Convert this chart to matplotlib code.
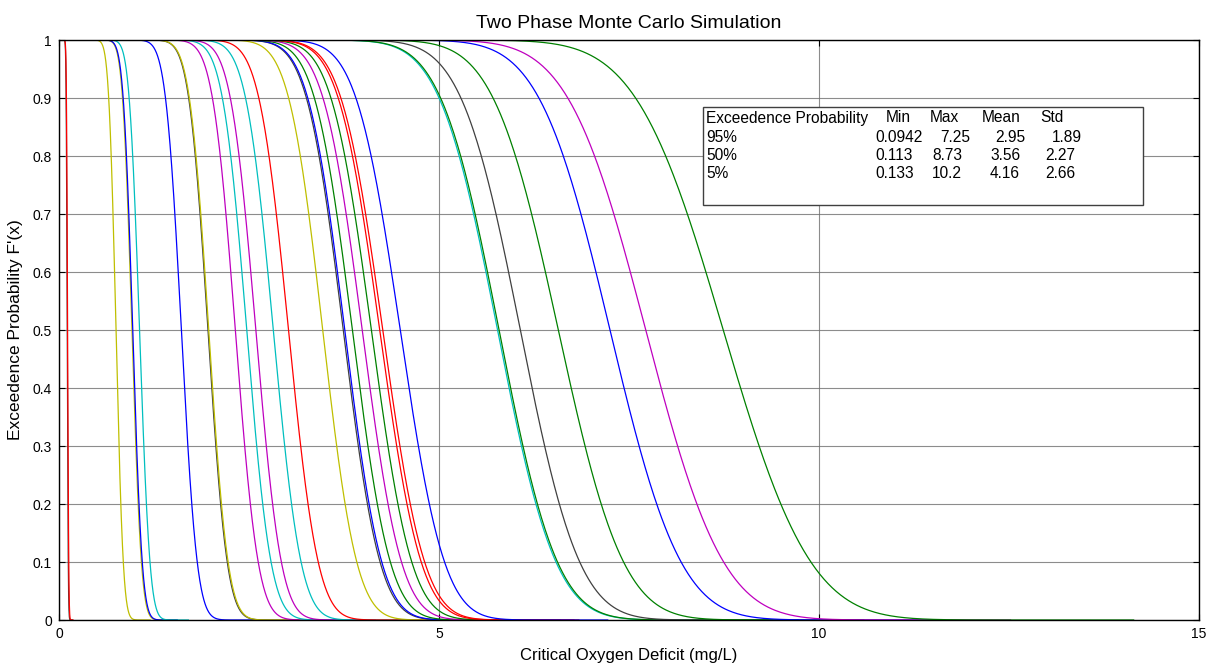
import math
import numpy as np
import matplotlib
matplotlib.use("Agg")
import matplotlib.pyplot as plt
from matplotlib.patches import Rectangle

plt.rcParams['font.family'] = ['Liberation Sans', 'DejaVu Sans']

# Per-curve medians (x at F'(x)=0.5), spread (std dev) and MATLAB colour codes
medians = [0.108, 0.113, 0.75, 0.96, 0.97, 1.06, 1.61, 1.96, 1.97, 2.32,
           2.47, 2.59, 2.82, 3.02, 3.47, 3.74, 3.76, 3.86, 3.99, 4.11,
           4.22, 4.26, 4.49, 5.77, 5.79, 6.07, 6.57, 7.25, 7.72, 8.74]
spreads = [0.011, 0.012, 0.075, 0.097, 0.098, 0.107, 0.163, 0.198, 0.199, 0.235,
           0.250, 0.262, 0.285, 0.305, 0.350, 0.378, 0.380, 0.390, 0.403, 0.415,
           0.426, 0.430, 0.455, 0.600, 0.600, 0.610, 0.670, 0.730, 0.800, 0.900]
colors = ['k', 'r', 'y', 'y', 'b', 'c', 'b', 'k', 'y', 'm',
          'c', 'm', 'c', 'r', 'y', 'k', 'b', 'g', 'm', 'g',
          'r', 'r', 'b', 'c', 'g', 'k', 'g', 'b', 'm', 'g']
matlab = {'b': (0, 0, 1), 'g': (0, 0.5, 0), 'r': (1, 0, 0), 'c': (0, 0.75, 0.75),
          'm': (0.75, 0, 0.75), 'y': (0.75, 0.75, 0), 'k': (0.25, 0.25, 0.25)}

table_header = ["Exceedence Probability", "Min", "Max", "Mean", "Std"]
table_rows = ["95%", "50%", "5%"]
table_vals = [["0.0942", "7.25", "2.95", "1.89"],
              ["0.113", "8.73", "3.56", "2.27"],
              ["0.133", "10.2", "4.16", "2.66"]]

x_ticks = [0, 5, 10, 15]
y_ticks = [0, 0.1, 0.2, 0.3, 0.4, 0.5, 0.6, 0.7, 0.8, 0.9, 1]
y_ticklabels = ["0", "0.1", "0.2", "0.3", "0.4", "0.5", "0.6", "0.7", "0.8", "0.9", "1"]

W, H = 1210, 663
fig = plt.figure(figsize=(W / 100, H / 100), dpi=100)
ax = fig.add_axes([59 / W, 1 - 620 / H, 1140 / W, 580 / H])

sf = np.vectorize(lambda x, m, s: 0.5 * math.erfc((x - m) / (s * math.sqrt(2))))
for m, s, c in zip(medians, spreads, colors):
    x = np.linspace(max(0, m - 6 * s), m + 6 * s, 600)
    ax.plot(x, sf(x, m, s), color=matlab[c], lw=0.9)

ax.set_xlim(0, 15)
ax.set_ylim(0, 1)
ax.set_xticks(x_ticks)
ax.set_yticks(y_ticks)
ax.set_yticklabels(y_ticklabels)
ax.tick_params(direction='in', length=4, width=0.8, top=True, right=True,
               labelsize=10, pad=5)
ax.grid(True, color='#6f6f6f', lw=0.8, alpha=0.8)
for sp in ax.spines.values():
    sp.set_linewidth(1.0)

ax.set_xlabel("Critical Oxygen Deficit (mg/L)", fontsize=12, labelpad=5)
ax.set_ylabel("Exceedence Probability F'(x)", fontsize=12.5, labelpad=7)
ax.set_title("Two Phase Monte Carlo Simulation", fontsize=14, pad=8.5)

# text box
def ax_x(px):
    return (px - 59) / 1140

def ax_y(py):
    return (620 - py) / 580

box = Rectangle((ax_x(703), ax_y(205)), ax_x(1143) - ax_x(703), ax_y(107) - ax_y(205),
                transform=ax.transAxes, facecolor='white', edgecolor='#404040', lw=1.0, zorder=5)
ax.add_patch(box)
row_y = [118, 137, 155, 174]
head_x = [706, 886, 930, 982, 1040]
for t, px in zip(table_header, head_x):
    ax.text(ax_x(px), ax_y(row_y[0]), t, transform=ax.transAxes, fontsize=11.2,
            va='center', ha='left', zorder=6)
val_x = [[875, 940, 995, 1052], [875, 932, 990, 1045], [875, 932, 990, 1045]]
for i, (lab, vals) in enumerate(zip(table_rows, table_vals)):
    yy = ax_y(row_y[i + 1])
    ax.text(ax_x(706), yy, lab, transform=ax.transAxes, fontsize=11.2, va='center', ha='left', zorder=6)
    for v, px in zip(vals, val_x[i]):
        ax.text(ax_x(px), yy, v, transform=ax.transAxes, fontsize=11.2, va='center', ha='left', zorder=6)

fig.savefig("out.png", dpi=100)
